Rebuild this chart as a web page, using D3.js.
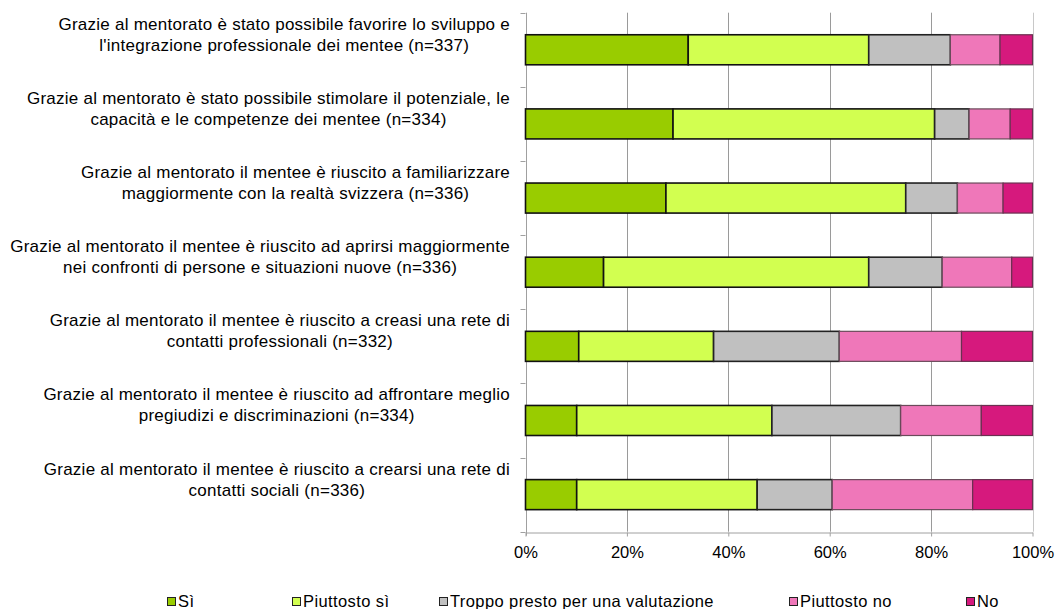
<!DOCTYPE html>
<html>
<head>
<meta charset="utf-8">
<script src="https://cdn.jsdelivr.net/npm/d3@7"></script>
<style>
  html, body { margin: 0; padding: 0; background: #fff; }
  svg { display: block; font-family: "Liberation Sans", Arial, sans-serif; }
</style>
</head>
<body>
<svg id="chart" width="1058" height="609"></svg>
<script>
// Survey statements (top to bottom), each wrapped onto two lines
const categories = [
  ["Grazie al mentorato è stato possibile favorire lo sviluppo e", "l'integrazione professionale dei mentee (n=337)"],
  ["Grazie al mentorato è stato possibile stimolare il potenziale, le", "capacità e le competenze dei mentee (n=334)"],
  ["Grazie al mentorato il mentee è riuscito a familiarizzare", "maggiormente con la realtà svizzera (n=336)"],
  ["Grazie al mentorato il mentee è riuscito ad aprirsi maggiormente", "nei confronti di persone e situazioni nuove (n=336)"],
  ["Grazie al mentorato il mentee è riuscito a creasi una rete di", "contatti professionali (n=332)"],
  ["Grazie al mentorato il mentee è riuscito ad affrontare meglio", "pregiudizi e discriminazioni (n=334)"],
  ["Grazie al mentorato il mentee è riuscito a crearsi una rete di", "contatti sociali (n=336)"]
];

// Answer options, in stacking order
const seriesNames = ["Sì", "Piuttosto sì", "Troppo presto per una valutazione", "Piuttosto no", "No"];

// Share of answers per statement (%), one array per answer option
const si            = [32.1, 29.1, 27.7, 15.4, 10.5, 10.1, 10.1];
const piuttostoSi   = [35.6, 51.6, 47.3, 52.3, 26.6, 38.5, 35.6];
const troppoPresto  = [16.1,  6.8, 10.2, 14.5, 24.8, 25.4, 14.8];
const piuttostoNo   = [ 9.8,  8.1,  9.0, 13.7, 24.1, 15.9, 27.7];
const no            = [ 6.4,  4.4,  5.8,  4.1, 14.0, 10.1, 11.8];

const tickValues = [0, 0.2, 0.4, 0.6, 0.8, 1.0];

const seriesValues = [si, piuttostoSi, troppoPresto, piuttostoNo, no];
const colors  = ["#99cc00", "#d2ff50", "#c0c0c0", "#ef77b9", "#d6197d"];
const strokes = ["#111", "#111", "#222", "#6a4a5a", "#6a3050"];
const strokeW = [1.6, 1.6, 1.6, 1.2, 1.2];

// Row table: one object per statement with normalised shares
const rows = categories.map((c, i) => {
  const r = { key: i };
  const total = d3.sum(seriesValues, s => s[i]);
  seriesNames.forEach((n, k) => { r[n] = seriesValues[k][i] / total; });
  return r;
});

const stacked = d3.stack().keys(seriesNames)(rows);

const svg = d3.select("#chart");
const plot = { left: 525.5, right: 1032.5, top: 12.7, bottom: 531.7 };

const x = d3.scaleLinear().domain([0, 1]).range([plot.left, plot.right]);
const y = d3.scaleBand()
  .domain(rows.map(r => r.key))
  .range([plot.top, plot.bottom])
  .paddingInner(0.595)
  .paddingOuter(0.2975);

// Vertical gridlines
svg.append("g")
  .selectAll("line")
  .data(tickValues.slice(1))
  .join("line")
  .attr("x1", d => Math.round(x(d)) + 0.5)
  .attr("x2", d => Math.round(x(d)) + 0.5)
  .attr("y1", plot.top)
  .attr("y2", plot.bottom)
  .attr("stroke", d => d === 1 ? "#c8c8c8" : "#9a9a9a")
  .attr("stroke-width", 1);

// Category axis (left) with ticks between bands
const step = y.step();
const boundaries = d3.range(categories.length + 1).map(i => plot.top + i * step);
const yAxisG = svg.append("g");
yAxisG.append("line")
  .attr("x1", Math.round(plot.left) + 0.5).attr("x2", Math.round(plot.left) + 0.5)
  .attr("y1", plot.top).attr("y2", plot.bottom + 4)
  .attr("stroke", "#a0a0a0");
yAxisG.selectAll("line.tick")
  .data(boundaries)
  .join("line")
  .attr("class", "tick")
  .attr("x1", plot.left - 5).attr("x2", plot.left)
  .attr("y1", d => Math.round(d) + 0.5).attr("y2", d => Math.round(d) + 0.5)
  .attr("stroke", "#a0a0a0");

// Value axis (bottom)
const xAxis = d3.axisBottom(x)
  .tickValues(tickValues)
  .tickFormat(d3.format(".0%"))
  .tickSizeInner(4)
  .tickSizeOuter(0)
  .tickPadding(10);
const xAxisG = svg.append("g")
  .attr("transform", `translate(0,${Math.round(plot.bottom) + 0.5})`)
  .call(xAxis);
xAxisG.select(".domain").attr("stroke", "#a0a0a0");
xAxisG.selectAll(".tick line").attr("stroke", "#a0a0a0");
xAxisG.selectAll(".tick text")
  .attr("font-size", 16.5)
  .attr("font-family", "'Liberation Sans', Arial, sans-serif")
  .attr("fill", "#000");

// Stacked bars
svg.append("g")
  .selectAll("g")
  .data(stacked)
  .join("g")
  .each(function (layer, k) {
    d3.select(this).selectAll("rect")
      .data(layer)
      .join("rect")
      .attr("x", d => x(d[0]))
      .attr("y", d => y(d.data.key))
      .attr("width", d => x(d[1]) - x(d[0]))
      .attr("height", y.bandwidth())
      .attr("fill", colors[k])
      .attr("stroke", strokes[k])
      .attr("stroke-width", strokeW[k]);
  });

// Category labels: two centred lines, block right-aligned next to the axis
const labelRight = 510;
const labels = svg.append("g")
  .attr("font-size", 17)
  .attr("letter-spacing", 0.25)
  .attr("fill", "#000");
categories.forEach((lines, i) => {
  const cy = y(i) + y.bandwidth() / 2;
  const g = labels.append("g");
  const texts = lines.map((t, j) => g.append("text")
    .attr("y", cy - 20 + j * 21)
    .attr("text-anchor", "middle")
    .text(t));
  const maxW = d3.max(texts, t => t.node().getComputedTextLength());
  texts.forEach(t => t.attr("x", labelRight - maxW / 2));
});

// Legend
const legendX = [167, 292, 439, 789, 966];
const legend = svg.append("g").attr("transform", "translate(0,597)");
seriesNames.forEach((n, k) => {
  const g = legend.append("g").attr("transform", `translate(${legendX[k]},0)`);
  g.append("rect")
    .attr("x", 0.5).attr("y", 0.5)
    .attr("width", 8).attr("height", 8)
    .attr("fill", colors[k])
    .attr("stroke", "#222")
    .attr("stroke-width", 1);
  g.append("text")
    .attr("x", 11).attr("y", 10)
    .attr("font-size", 16.5)
    .attr("letter-spacing", 0.4)
    .attr("fill", "#000")
    .text(n);
});
</script>
</body>
</html>
